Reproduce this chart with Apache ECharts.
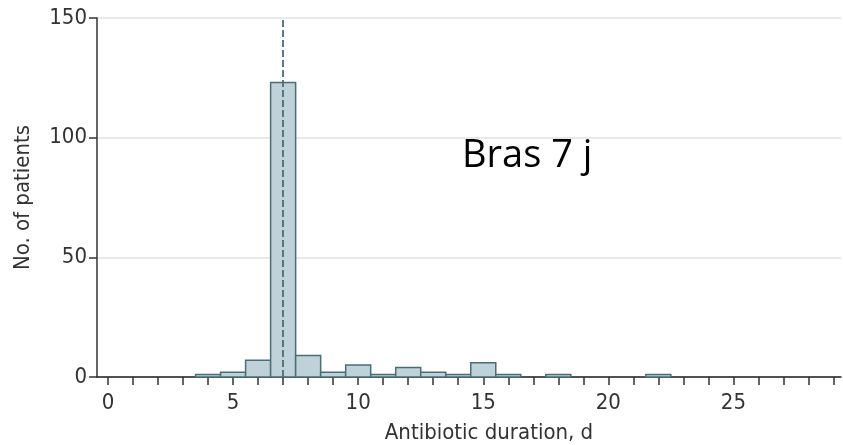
<!DOCTYPE html>
<html>
<head>
<meta charset="utf-8">
<script src="https://cdn.jsdelivr.net/npm/echarts@6/dist/echarts.min.js"></script>
<style>
  html, body { margin: 0; padding: 0; background: #fff; }
  #chart { width: 843px; height: 445px; }
</style>
</head>
<body>
<div id="chart"></div>
<script>
// antibiotic duration (days) and number of patients
const days = [4, 5, 6, 7, 8, 9, 10, 11, 12, 13, 14, 15, 16, 18, 22];
const patients = [1, 2, 7, 123, 9, 2, 5, 1, 4, 2, 1, 6, 1, 1, 1];
const medianDay = 7;
const yTicks = [0, 50, 100, 150];
const xLabelStep = 5;
const overlayText = 'Bras 7 j';

const axisFont = "'DejaVu Sans Condensed', 'DejaVu Sans', sans-serif";
const textColor = '#333';
const edge = '#4a6d78';
const fill = '#bfd2d9';

// x range: the plot starts a little left of 0, ticks run from 0
const xMin = -0.44;
const xMax = 29.3;
const plotLeft = 97;
const plotRight = 2;
const plotWidth = 843 - plotLeft - plotRight;
const tickLeft = plotLeft + (0 - xMin) / (xMax - xMin) * plotWidth;

const chart = echarts.init(document.getElementById('chart'));

const barData = days.map((d, i) => [d, patients[i]]);

const option = {
  animation: false,
  grid: [
    { left: plotLeft, right: plotRight, top: 18, bottom: 68, containLabel: false, outerBoundsMode: 'none' },
    { left: tickLeft, right: plotRight, top: 18, bottom: 68, containLabel: false, outerBoundsMode: 'none' }
  ],
  xAxis: [{
    gridIndex: 0,
    type: 'value',
    min: xMin,
    max: xMax,
    name: 'Antibiotic duration, d',
    nameLocation: 'middle',
    nameGap: 45,
    nameTextStyle: { fontFamily: axisFont, fontSize: 22, color: textColor, padding: [0, 0, 0, 40] },
    axisLine: { onZero: false, lineStyle: { color: '#222', width: 1.5 } },
    axisTick: { show: false },
    axisLabel: { show: false },
    splitLine: { show: false }
  }, {
    gridIndex: 1,
    type: 'value',
    min: 0,
    max: xMax,
    interval: 1,
    axisLine: { show: false, onZero: false },
    axisTick: { length: 8, lineStyle: { color: '#333', width: 1.5 } },
    axisLabel: {
      fontFamily: axisFont, fontSize: 22, color: textColor, margin: 15,
      showMaxLabel: false,
      formatter: v => (Number.isInteger(v) && v % xLabelStep === 0) ? String(v) : ''
    },
    splitLine: { show: false }
  }],
  yAxis: [{
    gridIndex: 0,
    type: 'value',
    min: yTicks[0],
    max: yTicks[yTicks.length - 1],
    interval: yTicks[1] - yTicks[0],
    name: 'No. of patients',
    nameLocation: 'middle',
    nameGap: 63,
    nameTextStyle: { fontFamily: axisFont, fontSize: 22, color: textColor },
    axisLine: { show: true, onZero: false, lineStyle: { color: '#333', width: 1.5 } },
    axisTick: { show: true, length: 8, lineStyle: { color: '#333', width: 1.5 } },
    axisLabel: { fontFamily: axisFont, fontSize: 22, color: textColor, margin: 10 },
    splitLine: { show: true, lineStyle: { color: '#e2e2e2', width: 1.5 } }
  }, {
    gridIndex: 1,
    type: 'value',
    min: yTicks[0],
    max: yTicks[yTicks.length - 1],
    show: false
  }],
  series: [{
    type: 'custom',
    xAxisIndex: 0,
    yAxisIndex: 0,
    data: barData,
    renderItem: (params, api) => {
      const x = api.value(0);
      const y = api.value(1);
      const p0 = api.coord([x - 0.5, y]);
      const p1 = api.coord([x + 0.5, 0]);
      return {
        type: 'rect',
        shape: { x: p0[0], y: p0[1], width: p1[0] - p0[0], height: p1[1] - p0[1] },
        style: { fill: fill, stroke: edge, lineWidth: 1.5 }
      };
    },
    markLine: {
      silent: true,
      symbol: 'none',
      z: 10,
      label: { show: false },
      lineStyle: { color: edge, type: [7, 3], width: 1.8 },
      data: [{ xAxis: medianDay }]
    }
  }],
  graphic: [{
    type: 'text',
    left: 462,
    top: 137,
    style: { text: overlayText, fontFamily: "'Open Sans', sans-serif", fontSize: 38, fill: '#000' }
  }]
};

chart.setOption(option);
</script>
</body>
</html>
